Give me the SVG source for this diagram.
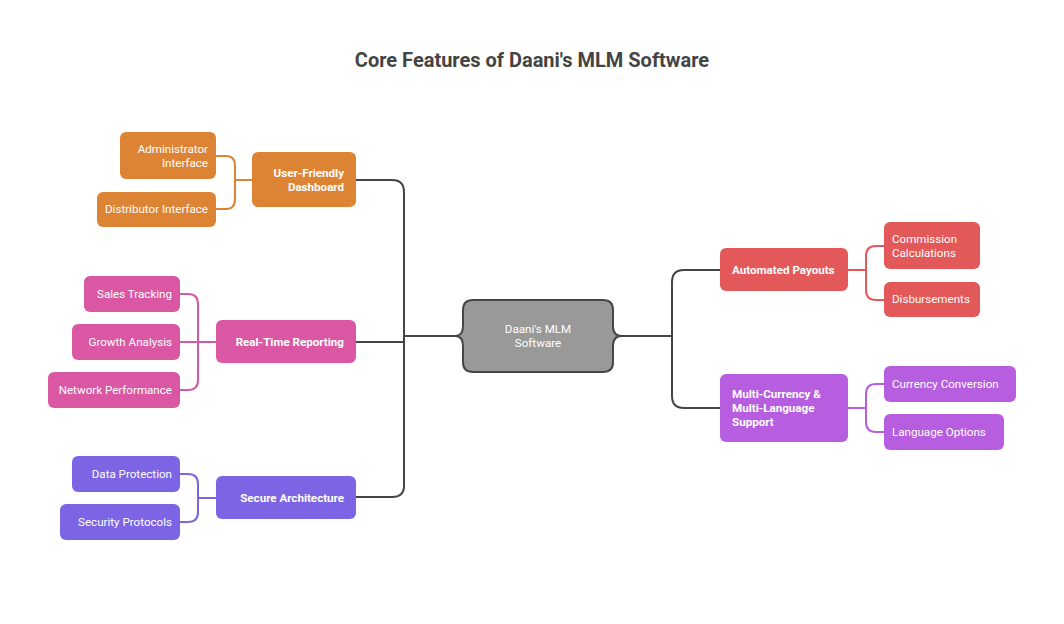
<svg xmlns="http://www.w3.org/2000/svg" width="1064" height="624" viewBox="0 0 1064 624">
<style>
  .t{font-family:Roboto,"Liberation Sans",sans-serif;font-size:11.6px;fill:#fff}
  .b{font-weight:bold}
  .r{text-anchor:end}
  .c{text-anchor:middle}
  .trunk{fill:none;stroke:#454545;stroke-width:2}
  .cn{fill:none;stroke-width:2}
  .or{fill:#DD8434}.pk{fill:#DA58A3}.vi{fill:#7C64E4}.rd{fill:#E35858}.mg{fill:#B65DE0}
</style>
<rect width="1064" height="624" fill="#fff"/>
<text x="532" y="67" text-anchor="middle" font-family="Roboto,'Liberation Sans',sans-serif" font-size="20" font-weight="bold" fill="#444">Core Features of Daani's MLM Software</text>

<g id="connectors">
  <path class="trunk" d="M356 180 H392 Q404 180 404 192 V486 Q404 497 392 497 H356"/>
  <path class="trunk" d="M356 342 H404"/>
  <path class="trunk" d="M404 336 H455"/>
  <path class="trunk" d="M622 336 H672"/>
  <path class="trunk" d="M720 270 H684 Q672 270 672 282 V396 Q672 408 684 408 H720"/>
  <path class="cn" stroke="#DD8434" d="M216 156 H226 Q235 156 235 166 V199 Q235 209 226 209 H216 M235 180 H252"/>
  <path class="cn" stroke="#DA58A3" d="M180 294 H188 Q198 294 198 304 V380 Q198 390 188 390 H180 M180 342 H216"/>
  <path class="cn" stroke="#7C64E4" d="M180 474 H188 Q198 474 198 484 V512 Q198 522 188 522 H180 M198 498 H216"/>
  <path class="cn" stroke="#E35858" d="M848 270 H866 M884 246 H876 Q866 246 866 256 V290 Q866 300 876 300 H884"/>
  <path class="cn" stroke="#B65DE0" d="M848 408 H866 M884 384 H876 Q866 384 866 394 V422 Q866 432 876 432 H884"/>
</g>

<g id="center">
  <path d="M473 300 H603 Q613 300 613 310 V326 Q613 336 622 336 Q613 336 613 346 V362 Q613 372 603 372 H473 Q463 372 463 362 V346 Q463 336 455 336 Q463 336 463 326 V310 Q463 300 473 300 Z" fill="#999" stroke="#454545" stroke-width="2"/>
  <text class="t c" x="538" y="333">Daani's MLM</text>
  <text class="t c" x="538" y="347">Software</text>
</g>

<g id="dashboard"><rect class="or" x="252" y="152" width="104" height="55" rx="6"/>
  <text class="t b r" x="344" y="177">User-Friendly</text><text class="t b r" x="344" y="191">Dashboard</text></g>
<g id="admin"><rect class="or" x="120" y="132" width="96" height="47" rx="6"/>
  <text class="t r" x="208" y="153">Administrator</text><text class="t r" x="208" y="167">Interface</text></g>
<g id="distributor"><rect class="or" x="97" y="192" width="119" height="35" rx="6"/>
  <text class="t r" x="208" y="213">Distributor Interface</text></g>

<g id="reporting"><rect class="pk" x="216" y="320" width="140" height="43" rx="6"/>
  <text class="t b r" x="344" y="346">Real-Time Reporting</text></g>
<g id="sales"><rect class="pk" x="84" y="276" width="96" height="36" rx="6"/>
  <text class="t r" x="172" y="298">Sales Tracking</text></g>
<g id="growth"><rect class="pk" x="72" y="324" width="108" height="36" rx="6"/>
  <text class="t r" x="172" y="346">Growth Analysis</text></g>
<g id="network"><rect class="pk" x="48" y="372" width="132" height="36" rx="6"/>
  <text class="t r" x="172" y="394">Network Performance</text></g>

<g id="secure"><rect class="vi" x="216" y="476" width="140" height="43" rx="6"/>
  <text class="t b r" x="344" y="502">Secure Architecture</text></g>
<g id="dataprot"><rect class="vi" x="72" y="456" width="108" height="36" rx="6"/>
  <text class="t r" x="172" y="478">Data Protection</text></g>
<g id="secproto"><rect class="vi" x="60" y="504" width="120" height="36" rx="6"/>
  <text class="t r" x="172" y="526">Security Protocols</text></g>

<g id="payouts"><rect class="rd" x="720" y="248" width="128" height="43" rx="6"/>
  <text class="t b" x="732" y="274">Automated Payouts</text></g>
<g id="commission"><rect class="rd" x="884" y="222" width="96" height="47" rx="6"/>
  <text class="t" x="892" y="243">Commission</text><text class="t" x="892" y="257">Calculations</text></g>
<g id="disburse"><rect class="rd" x="884" y="282" width="96" height="35" rx="6"/>
  <text class="t" x="892" y="303">Disbursements</text></g>

<g id="multi"><rect class="mg" x="720" y="374" width="128" height="68" rx="6"/>
  <text class="t b" x="732" y="398">Multi-Currency &amp;</text><text class="t b" x="732" y="412">Multi-Language</text><text class="t b" x="732" y="426">Support</text></g>
<g id="currency"><rect class="mg" x="884" y="366" width="132" height="36" rx="6"/>
  <text class="t" x="892" y="388">Currency Conversion</text></g>
<g id="language"><rect class="mg" x="884" y="414" width="120" height="36" rx="6"/>
  <text class="t" x="892" y="436">Language Options</text></g>
</svg>
